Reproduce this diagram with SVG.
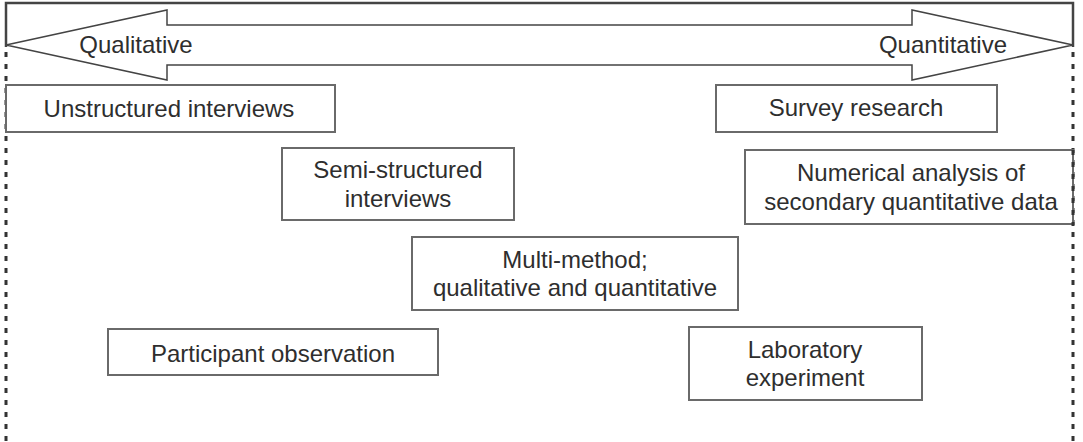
<svg xmlns="http://www.w3.org/2000/svg" width="1083" height="442" viewBox="0 0 1083 442">
<style>
.box{fill:#fff;stroke:#6a6a6a;stroke-width:2}
.t{font-family:"Liberation Sans",Arial,sans-serif;font-size:24px;fill:#2e2e2e;text-anchor:middle}
.frame{fill:none;stroke:#444;stroke-width:2.5}
.dash{fill:none;stroke:#333;stroke-width:3;stroke-dasharray:5 7}
</style>
<rect width="1083" height="442" fill="#fff"/>
<g id="frame">
<path class="frame" d="M6,47 V3 H1073 V47"/>
<path class="dash" d="M6,52 V442 M1073,52 V442"/>
</g>
<g id="arrow">
<polygon points="6,45 167,10 167,25 912,25 912,10 1073,45 912,80 912,65 167,65 167,80" fill="#fff" stroke="#444" stroke-width="1.5"/>
<text class="t" x="136" y="53">Qualitative</text>
<text class="t" x="943" y="53">Quantitative</text>
</g>
<g id="unstructured">
<rect class="box" x="6" y="85" width="329" height="47"/>
<text class="t" x="169" y="117">Unstructured interviews</text>
</g>
<g id="survey">
<rect class="box" x="716" y="85" width="281" height="47"/>
<text class="t" x="856" y="116">Survey research</text>
</g>
<g id="semi">
<rect class="box" x="282" y="148" width="232" height="72"/>
<text class="t" x="398" y="178">Semi-structured</text>
<text class="t" x="398" y="207">interviews</text>
</g>
<g id="numerical">
<rect class="box" x="745" y="150" width="328" height="74"/>
<text class="t" x="911" y="181">Numerical analysis of</text>
<text class="t" x="911" y="210">secondary quantitative data</text>
</g>
<g id="multi">
<rect class="box" x="412" y="237" width="326" height="73"/>
<text class="t" x="575" y="268">Multi-method;</text>
<text class="t" x="575" y="296">qualitative and quantitative</text>
</g>
<g id="participant">
<rect class="box" x="108" y="329" width="330" height="46"/>
<text class="t" x="273" y="362">Participant observation</text>
</g>
<g id="laboratory">
<rect class="box" x="689" y="327" width="233" height="73"/>
<text class="t" x="805" y="358">Laboratory</text>
<text class="t" x="805" y="386">experiment</text>
</g>
<g id="connectors"/>
<path class="dash" d="M1073,150 V226"/>
</svg>
